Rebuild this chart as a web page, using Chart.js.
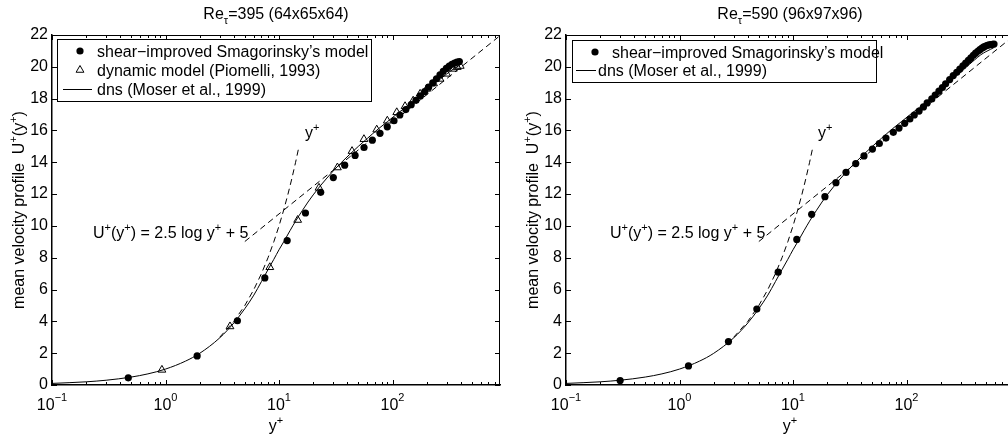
<!DOCTYPE html>
<html><head><meta charset="utf-8">
<script src="https://cdn.jsdelivr.net/npm/chart.js@4.4.1/dist/chart.umd.min.js"></script>
<style>
html,body{margin:0;padding:0;background:#fff;overflow:hidden;width:1008px;height:439px;position:relative;}
#c1{position:absolute;left:0;top:0;}
#c2{position:absolute;left:510px;top:0;}
</style></head><body>
<canvas id="c1" width="510" height="439"></canvas>
<canvas id="c2" width="520" height="439"></canvas>
<script>
// ---------------- data ----------------
const yTicks = [0, 2, 4, 6, 8, 10, 12, 14, 16, 18, 20, 22];
const xMajorTicks = [0.1, 1, 10, 100];
const xTickExponents = ['\u22121', '0', '1', '2'];
const xMin = 0.1, xMax = 885;

// Re_tau = 395 : shear-improved Smagorinsky (filled circles)
const les395Y = [0.47, 1.9, 4.3, 7.5, 11.8, 17.1, 23.3, 30.1, 37.9, 46.8, 56.1, 66.4, 77.6, 89.9, 103, 116, 131, 146, 161, 176, 192, 208, 226, 244, 262, 280, 298, 316, 334, 352, 370, 388];
const les395U = [0.45, 1.83, 4.04, 6.73, 9.08, 10.81, 12.11, 13.04, 13.82, 14.43, 14.93, 15.39, 15.82, 16.23, 16.61, 16.97, 17.31, 17.62, 17.90, 18.17, 18.44, 18.72, 18.99, 19.25, 19.5, 19.72, 19.9, 20.05, 20.16, 20.24, 20.3, 20.33];
// Re_tau = 395 : dynamic model (Piomelli, 1993) (open triangles)
const dyn395Y = [0.93, 3.7, 8.3, 14.6, 22.5, 32.7, 44, 56, 72.6, 90, 109, 129, 152, 175, 200, 230, 262, 300, 343, 372, 395];
const dyn395U = [0.95, 3.68, 7.4, 10.37, 12.39, 13.67, 14.7, 15.45, 16.05, 16.61, 17.14, 17.52, 17.87, 18.3, 18.61, 18.95, 19.24, 19.56, 19.87, 19.98, 20.05];
// Re_tau = 395 : dns (Moser et al., 1999)
const dns395Y = [0.1, 0.2, 0.3, 0.5, 0.7, 1, 1.5, 2, 3, 4, 5, 6, 7, 8, 9, 10, 11, 12.5, 14, 16, 18, 20, 23, 26, 30, 35, 42, 50, 60, 75, 90, 110, 130, 160, 200, 250, 300, 350, 392];
const dns395U = [0.1, 0.2, 0.3, 0.5, 0.7, 1.0, 1.5, 1.99, 2.96, 3.9, 4.8, 5.65, 6.5, 7.25, 7.9, 8.5, 9.0, 9.7, 10.3, 10.95, 11.5, 11.95, 12.5, 12.95, 13.45, 13.95, 14.5, 15.0, 15.5, 16.1, 16.55, 17.05, 17.45, 17.95, 18.55, 19.1, 19.55, 19.9, 20.1];

// Re_tau = 590 : shear-improved Smagorinsky (filled circles)
const les590Y = [0.3, 1.2, 2.7, 4.8, 7.4, 10.8, 14.6, 19.1, 23.9, 29.3, 35.7, 42.2, 50.1, 57.6, 65.9, 76.5, 85.9, 96.4, 107, 117, 129, 141, 152, 167, 179, 193, 207, 221, 240, 258, 277, 295, 314, 332, 351, 369, 388, 406, 425, 443, 462, 480, 499, 517, 536, 554, 573, 590];
const les590U = [0.28, 1.2, 2.73, 4.77, 7.09, 9.15, 10.73, 11.84, 12.72, 13.36, 13.92, 14.4, 14.83, 15.18, 15.52, 15.88, 16.15, 16.45, 16.72, 16.97, 17.22, 17.48, 17.73, 17.98, 18.23, 18.47, 18.7, 18.93, 19.2, 19.45, 19.66, 19.86, 20.06, 20.23, 20.4, 20.56, 20.72, 20.86, 20.98, 21.08, 21.17, 21.25, 21.31, 21.35, 21.38, 21.4, 21.42, 21.43];
// Re_tau = 590 : dns (Moser et al., 1999)
const dns590Y = [0.1, 0.2, 0.3, 0.5, 0.7, 1, 1.5, 2, 3, 4, 5, 6, 7, 8, 9, 10, 11, 12.5, 14, 16, 18, 20, 23, 26, 30, 35, 42, 50, 60, 75, 90, 110, 130, 160, 200, 250, 300, 350, 400, 450, 500, 550, 587];
const dns590U = [0.1, 0.2, 0.3, 0.5, 0.7, 1.0, 1.5, 1.99, 2.96, 3.9, 4.8, 5.65, 6.5, 7.25, 7.9, 8.5, 9.0, 9.7, 10.3, 10.95, 11.5, 11.95, 12.5, 12.95, 13.45, 13.95, 14.5, 15.0, 15.5, 16.1, 16.55, 17.05, 17.45, 17.95, 18.6, 19.2, 19.65, 20.1, 20.45, 20.75, 20.95, 21.1, 21.2];

// reference laws (dashed)
const linLawY = [3, 4, 5, 6, 7, 8, 9, 10, 11, 12, 13, 14, 15];
const linLawU = [3, 4, 5, 6, 7, 8, 9, 10, 11, 12, 13, 14, 15];
const logLawY = [5, 885];
const logLawU = [9.02, 21.96];

// ---------------- helpers ----------------
const FONT = '"Liberation Sans", Arial, Helvetica, sans-serif';
const BASE = 16, SMALL = 11;
function setFont(ctx, size) { ctx.font = size + 'px ' + FONT; }
function partsWidth(ctx, parts) {
  let w = 0;
  for (const p of parts) { setFont(ctx, p[1] ? SMALL : BASE); w += ctx.measureText(p[0]).width; }
  return w;
}
function drawParts(ctx, parts, x, y, align, supDy) {
  const w = partsWidth(ctx, parts);
  let cx = align === 'center' ? x - w / 2 : align === 'right' ? x - w : x;
  ctx.textAlign = 'left'; ctx.textBaseline = 'alphabetic'; ctx.fillStyle = '#000';
  for (const p of parts) {
    setFont(ctx, p[1] ? SMALL : BASE);
    const dy = p[1] === 'sup' ? -(supDy || 7) : p[1] === 'sub' ? 5 : 0;
    ctx.fillText(p[0], cx, y + dy);
    cx += ctx.measureText(p[0]).width;
  }
}
function pts(xs, ys) { return xs.map((x, i) => ({ x: x, y: ys[i] })); }

const decor = {
  id: 'decor',
  afterDraw(chart, args, o) {
    const ctx = chart.ctx, a = chart.chartArea, xs = chart.scales.x, ys = chart.scales.y;
    ctx.save();
    ctx.strokeStyle = '#000'; ctx.lineWidth = 1;
    // top / right box lines
    ctx.beginPath();
    ctx.moveTo(a.left, Math.round(a.top) + 0.5); ctx.lineTo(a.right, Math.round(a.top) + 0.5);
    ctx.moveTo(Math.round(a.right) - 0.5, a.top); ctx.lineTo(Math.round(a.right) - 0.5, a.bottom);
    ctx.stroke();
    // inward ticks
    ctx.beginPath();
    const minor = [];
    for (const d of xMajorTicks) for (let m = 2; m <= 9; m++) { const v = d * m; if (v <= xMax) minor.push(v); }
    const xt = (v, len) => {
      const px = Math.round(xs.getPixelForValue(v)) + 0.5;
      ctx.moveTo(px, a.bottom); ctx.lineTo(px, a.bottom - len);
      ctx.moveTo(px, a.top); ctx.lineTo(px, a.top + len);
    };
    xMajorTicks.forEach(v => xt(v, 5));
    minor.forEach(v => xt(v, 3));
    yTicks.forEach(v => {
      const py = Math.round(ys.getPixelForValue(v)) + 0.5;
      ctx.moveTo(a.left, py); ctx.lineTo(a.left + 5, py);
      ctx.moveTo(a.right, py); ctx.lineTo(a.right - 5, py);
    });
    ctx.stroke();
    // x tick labels  10^k
    xMajorTicks.forEach((v, i) => {
      drawParts(ctx, [['10', ''], [xTickExponents[i], 'sup']], xs.getPixelForValue(v), a.bottom + 25, 'center', 9);
    });
    // axis titles
    const cxm = (a.left + a.right) / 2;
    drawParts(ctx, [['y', ''], ['+', 'sup']], cxm, a.bottom + 46, 'center');
    ctx.save();
    ctx.translate(a.left - 34, (a.top + a.bottom) / 2);
    ctx.rotate(-Math.PI / 2);
    drawParts(ctx, [['mean velocity profile  U', ''], ['+', 'sup'], ['(y', ''], ['+', 'sup'], [')', '']], 0, 6, 'center');
    ctx.restore();
    // title
    drawParts(ctx, o.title, cxm, 19, 'center');
    // annotations
    drawParts(ctx, [['y', ''], ['+', 'sup']], a.left + o.yLabelDx, 138, 'left');
    drawParts(ctx, [['U', ''], ['+', 'sup'], ['(y', ''], ['+', 'sup'], [') = 2.5 log y', ''], ['+', 'sup'], [' + 5', '']], a.left + o.lawDx, 238, 'left');
    // legend
    const L = o.legend;
    ctx.strokeStyle = '#000'; ctx.lineWidth = 1;
    ctx.strokeRect(Math.round(a.left + L.x) + 0.5, Math.round(a.top + L.y) + 0.5, L.w, L.h);
    L.rows.forEach(r => {
      const yy = a.top + r.y;
      if (r.kind === 'circle') {
        ctx.beginPath(); ctx.arc(a.left + r.mx, yy, 3.6, 0, Math.PI * 2); ctx.fillStyle = '#000'; ctx.fill();
      } else if (r.kind === 'triangle') {
        const R = 4.5, cx = a.left + r.mx;
        ctx.beginPath();
        for (let k = 0; k < 3; k++) {
          const ang = k * 2 * Math.PI / 3;
          const px = cx + Math.sin(ang) * R, py = yy - Math.cos(ang) * R;
          if (k === 0) ctx.moveTo(px, py); else ctx.lineTo(px, py);
        }
        ctx.closePath(); ctx.stroke();
      } else {
        ctx.beginPath(); ctx.moveTo(a.left + r.l0, Math.round(yy) + 0.5); ctx.lineTo(a.left + r.l1, Math.round(yy) + 0.5); ctx.stroke();
      }
      drawParts(ctx, [[r.text, '']], a.left + r.tx, yy + 6, 'left');
    });
    ctx.restore();
  }
};

function makeChart(id, padRight, axisW, datasets, decorOpts) {
  return new Chart(document.getElementById(id), {
    type: 'scatter',
    data: { datasets: datasets },
    options: {
      responsive: false, animation: false, devicePixelRatio: 1,
      layout: { padding: { top: 35, right: padRight, left: 0, bottom: 0 } },
      plugins: { legend: { display: false }, tooltip: { enabled: false }, decor: decorOpts },
      scales: {
        x: {
          type: 'logarithmic', min: xMin, max: xMax,
          grid: { display: false, drawTicks: false },
          border: { display: true, color: '#000', width: 1.5 },
          ticks: { display: false },
          afterBuildTicks: s => { s.ticks = xMajorTicks.map(v => ({ value: v })); },
          afterFit: s => { s.height = 54; }
        },
        y: {
          type: 'linear', min: 0, max: 22,
          grid: { display: false, drawTicks: false },
          border: { display: true, color: '#000', width: 1.5 },
          ticks: { stepSize: 2, padding: 4, color: '#000', font: { family: FONT, size: 16 } },
          afterFit: s => { s.width = axisW; }
        }
      }
    },
    plugins: [decor]
  });
}

const circleStyle = { pointStyle: 'circle', pointRadius: 3.6, pointBackgroundColor: '#000', pointBorderWidth: 0, showLine: false };
const triStyle = { pointStyle: 'triangle', pointRadius: 4.5, pointBackgroundColor: 'rgba(0,0,0,0)', pointBorderColor: '#000', pointBorderWidth: 1, showLine: false };
const dnsStyle = { showLine: true, borderColor: '#000', borderWidth: 1, pointRadius: 0, cubicInterpolationMode: 'monotone' };
const dashStyle = { showLine: true, borderColor: '#000', borderWidth: 1, pointRadius: 0, borderDash: [6, 4] };

makeChart('c1', 10, 52, [
  Object.assign({ label: 'shear-improved Smagorinsky', data: pts(les395Y, les395U) }, circleStyle),
  Object.assign({ label: 'dynamic model', data: pts(dyn395Y, dyn395U) }, triStyle),
  Object.assign({ label: 'dns', data: pts(dns395Y, dns395U) }, dnsStyle),
  Object.assign({ label: 'linear law', data: pts(linLawY, linLawU) }, dashStyle),
  Object.assign({ label: 'log law', data: pts(logLawY, logLawU) }, dashStyle)
], {
  title: [['Re', ''], ['\u03c4', 'sub'], ['=395 (64x65x64)', '']],
  yLabelDx: 253, lawDx: 41,
  legend: { x: 5, y: 4, w: 314, h: 62, rows: [
    { kind: 'circle', y: 16, mx: 28, tx: 45, text: 'shear\u2212improved Smagorinsky\u2019s model' },
    { kind: 'triangle', y: 35, mx: 28, tx: 45, text: 'dynamic model (Piomelli, 1993)' },
    { kind: 'line', y: 54, l0: 11, l1: 40, tx: 45, text: 'dns (Moser et al., 1999)' }
  ] }
});

makeChart('c2', 16, 56, [
  Object.assign({ label: 'shear-improved Smagorinsky', data: pts(les590Y, les590U) }, circleStyle),
  Object.assign({ label: 'dns', data: pts(dns590Y, dns590U) }, dnsStyle),
  Object.assign({ label: 'linear law', data: pts(linLawY, linLawU) }, dashStyle),
  Object.assign({ label: 'log law', data: pts(logLawY, logLawU) }, dashStyle)
], {
  title: [['Re', ''], ['\u03c4', 'sub'], ['=590 (96x97x96)', '']],
  yLabelDx: 252, lawDx: 44,
  legend: { x: 6, y: 5, w: 304, h: 42, rows: [
    { kind: 'circle', y: 17, mx: 29, tx: 46, text: 'shear\u2212improved Smagorinsky\u2019s model' },
    { kind: 'line', y: 35, l0: 10, l1: 30, tx: 32, text: 'dns (Moser et al., 1999)' }
  ] }
});
</script>
</body></html>
